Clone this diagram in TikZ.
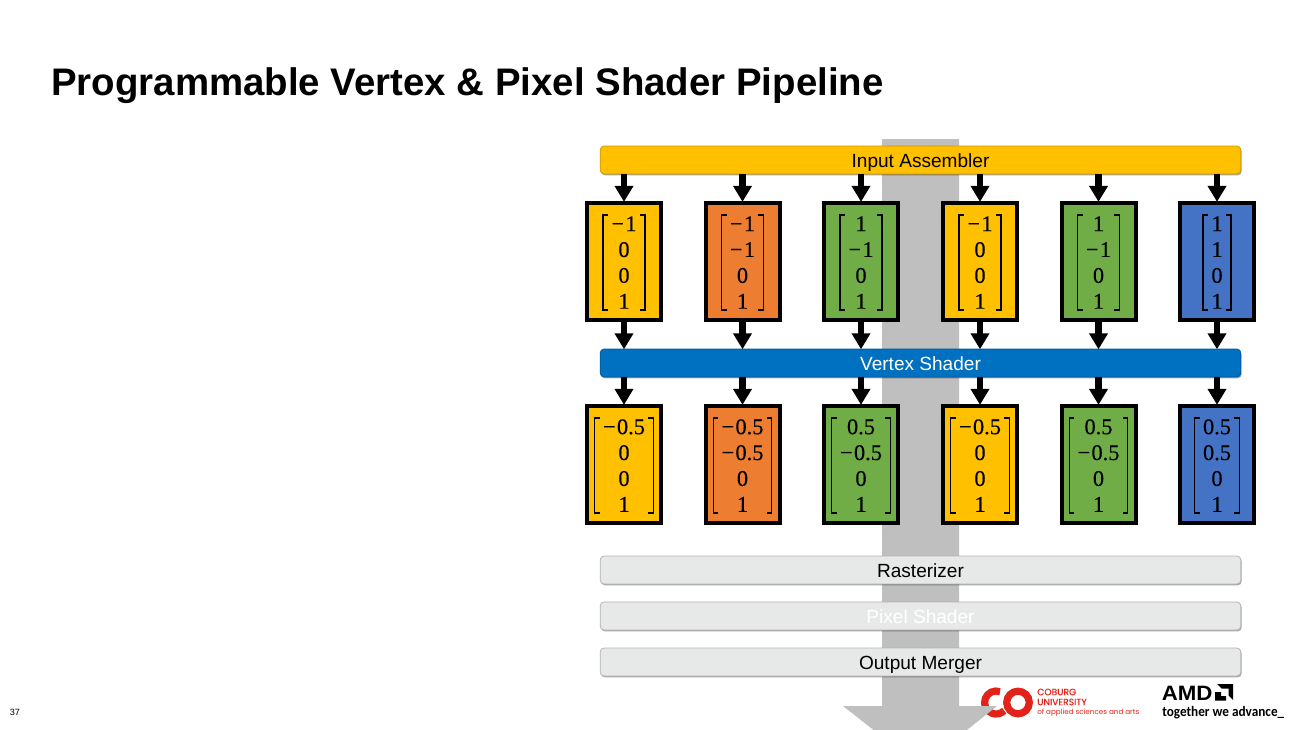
\documentclass[tikz,border=0pt]{standalone}
\usepackage{fontspec}
\setmainfont{Liberation Sans}
\newfontfamily\cellfont[FakeBold=0.25]{Liberation Serif}
\newfontfamily\cobfont{Poppins}
\newfontfamily\cobheavy[FakeBold=0.3]{Poppins}
\newfontfamily\amdfont{Carlito}
\usetikzlibrary{arrows.meta,shadows,calc}
\definecolor{cyel}{HTML}{FFC000}
\definecolor{corg}{HTML}{ED7D31}
\definecolor{cgrn}{HTML}{70AD47}
\definecolor{cblu}{HTML}{4472C4}
\definecolor{cbar}{HTML}{0070C0}
\definecolor{clgt}{HTML}{E7E9E9}
\definecolor{cshf}{HTML}{BFBFBF}
\definecolor{cred}{HTML}{E2231A}
\tikzset{
  x=0.75pt,y=-0.75pt,
  bar/.style={draw=#1!80!black,line width=0.6pt,fill=#1,rounded corners=3pt,minimum width=480.5pt,minimum height=21pt,inner sep=0pt,
    text height=11.4pt,text depth=0pt,
    font=\fontsize{14.3}{16}\selectfont,drop shadow={shadow xshift=0.6pt,shadow yshift=-1pt,fill=black,opacity=0.35}},
  vbox/.style={draw=black,line width=3pt,fill=#1,minimum width=55.5pt,minimum height=87.5pt,inner sep=0pt},
  rowtext/.style={inner sep=0pt,align=center,font=\cellfont\fontsize{16.8}{19.4}\selectfont},
  brk/.style={draw=black,line width=1pt,line join=miter},
  flow/.style={draw=black,line width=5pt,-{Triangle[length=12pt,width=13.5pt]},shorten >=-0.5pt},
}
\newcommand{\mn}{−\kern0.06em}
% name, colour, x, y, rows
\newcommand{\cellbox}[5]{%
  \node[vbox=#2] (#1) at (#3,#4) {};
  \node[rowtext] (#1t) at ($(#1.center)+(0,1)$) {#5};
  \coordinate (#1l) at ($(#1.center -| #1t.west)+(-8,1)$);
  \coordinate (#1r) at ($(#1.center -| #1t.east)+(8,1)$);
  \draw[brk] ($(#1l)+(5,-47.5)$) -- ($(#1l)+(0,-47.5)$) -- ($(#1l)+(0,47.5)$) -- ($(#1l)+(5,47.5)$);
  \draw[brk] ($(#1r)+(-5,-47.5)$) -- ($(#1r)+(0,-47.5)$) -- ($(#1r)+(0,47.5)$) -- ($(#1r)+(-5,47.5)$);
}
\begin{document}
\begin{tikzpicture}
\useasboundingbox (0,0) rectangle (1299,729);
\clip (0,0) rectangle (1299,729);
\node[anchor=base west,inner sep=0pt,font=\bfseries\fontsize{28.8}{32}\selectfont] (title) at (51,95) {Programmable Vertex \& Pixel Shader Pipeline};
\node[inner sep=0pt,font=\fontsize{6.8}{8}\selectfont] (page) at (15,712) {37};
% Coburg logo
\draw[cred,line width=5.4pt] (1018,702.5) circle[radius=11.3];
\draw[cred,line width=5.4pt] (1000,691.7) arc[start angle=-70,end angle=-315,radius=11.5];
\node[anchor=west,inner sep=0pt,text=cred,font=\cobheavy\fontsize{6.9}{8}\selectfont] (cob1) at (1037,692) {COBURG};
\node[anchor=west,inner sep=0pt,text=cred,font=\cobheavy\fontsize{6.9}{8}\selectfont] (cob2) at (1037,702) {UNIVERSITY};
\node[anchor=west,inner sep=0pt,text=cred,font=\cobfont\fontsize{5.4}{8}\selectfont] (cob3) at (1037,713) {of applied sciences and arts};
% AMD logo
\node[anchor=west,inner sep=0pt,font=\bfseries\fontsize{15.6}{18}\selectfont] (amd) at (1161.5,693) {\scalebox{1.07}[1]{AMD}};
\fill (1217,684) -- (1233,684) -- (1233,700) -- (1228.5,695.5) -- (1228.5,688.5) -- (1221.5,688.5) -- cycle;
\fill (1215,692) -- (1221,692) -- (1221,696) -- (1226,696) -- (1226,700.5) -- (1215,700.5) -- cycle;
\node[anchor=west,inner sep=0pt,font=\amdfont\bfseries\fontsize{10.8}{14}\selectfont] (amd2) at (1162,712.5) {\scalebox{0.92}[1]{together we advance\_}};
% big arrow
\fill[cshf] (882,139) -- (959,139) -- (959,706) -- (997,706) -- (920.5,767) -- (843,706) -- (882,706) -- cycle;
% bars
\node[bar=cyel] (ia) at (920.5,160) {Input Assembler};
\node[bar=cbar,text=white] (vs) at (920.5,363) {Vertex Shader};
\node[bar=clgt,draw=black!30] (ra) at (920.5,570) {Rasterizer};
\node[bar=clgt,draw=black!30,text=white] (ps) at (920.5,616) {Pixel Shader};
\node[bar=clgt,draw=black!30] (om) at (920.5,662) {Output Merger};
% top boxes
\cellbox{a1}{cyel}{624}{261.5}{\mn1\\0\\0\\1}
\cellbox{a2}{corg}{742.5}{261.5}{\mn1\\\mn1\\0\\1}
\cellbox{a3}{cgrn}{861}{261.5}{1\\\mn1\\0\\1}
\cellbox{a4}{cyel}{980}{261.5}{\mn1\\0\\0\\1}
\cellbox{a5}{cgrn}{1098.5}{261.5}{1\\\mn1\\0\\1}
\cellbox{a6}{cblu}{1217}{261.5}{1\\1\\0\\1}
% bottom boxes
\cellbox{b1}{cyel}{624}{464.5}{\mn0.5\\0\\0\\1}
\cellbox{b2}{corg}{742.5}{464.5}{\mn0.5\\\mn0.5\\0\\1}
\cellbox{b3}{cgrn}{861}{464.5}{0.5\\\mn0.5\\0\\1}
\cellbox{b4}{cyel}{980}{464.5}{\mn0.5\\0\\0\\1}
\cellbox{b5}{cgrn}{1098.5}{464.5}{0.5\\\mn0.5\\0\\1}
\cellbox{b6}{cblu}{1217}{464.5}{0.5\\0.5\\0\\1}
% connectors
\foreach \i in {1,...,6}{
  \draw[flow] (a\i.north |- ia.south) -- (a\i.north);
  \draw[flow] (a\i.south) -- (a\i.south |- vs.north);
  \draw[flow] (b\i.north |- vs.south) -- (b\i.north);
}
\end{tikzpicture}
\end{document}
